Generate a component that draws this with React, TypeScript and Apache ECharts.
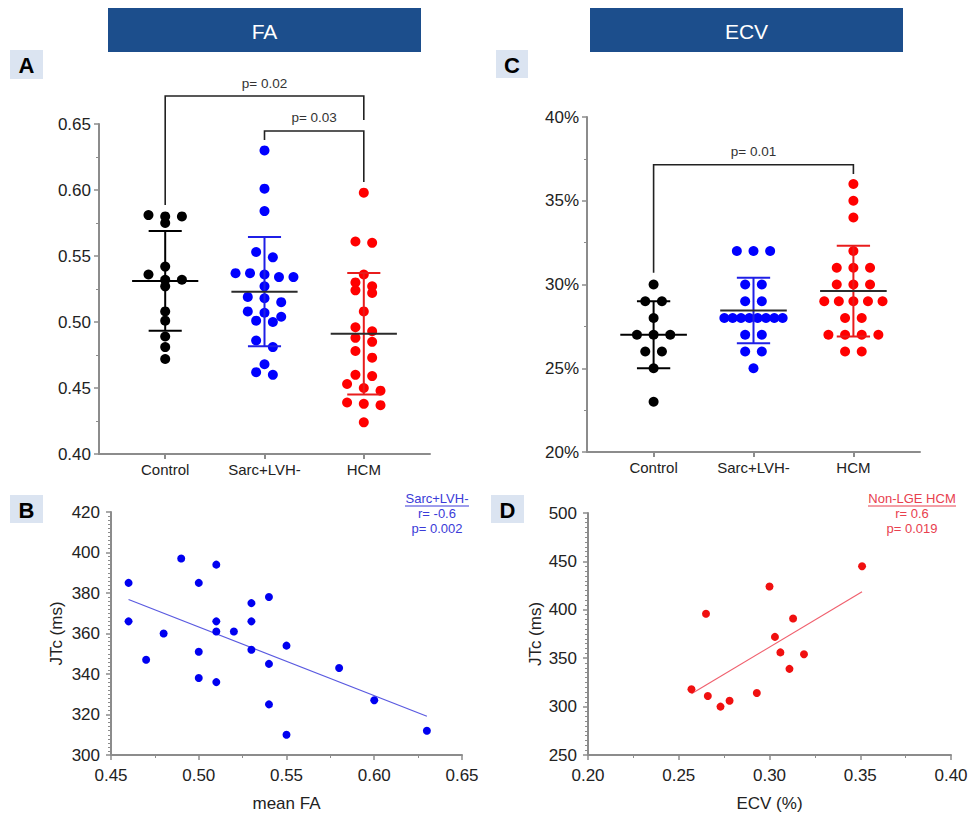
import React, { useEffect, useRef } from "react";
import * as echarts from "echarts";

// ---------- data ----------
const groupNames = ["Control", "Sarc+LVH-", "HCM"];
const groupPositions = [2, 5, 8];
const groupColors = ["#000000", "#0000ff", "#ff0000"];
const barColors = ["#000000", "#1f1fe6", "#e81c1c"];
const meanColors = ["#000000", "#2b2b2b", "#2b2b2b"];

// Panel A: FA per group
const faControl = [0.58, 0.575, 0.58, 0.581, 0.542, 0.532, 0.532, 0.536, 0.527, 0.508, 0.501, 0.489, 0.481, 0.472];
const faSarc = [0.63, 0.601, 0.584, 0.553, 0.549, 0.536, 0.534, 0.534, 0.537, 0.537, 0.527, 0.515, 0.518, 0.519, 0.504, 0.507, 0.508, 0.5, 0.501, 0.486, 0.481, 0.468, 0.46, 0.462];
const faHcm = [0.598, 0.561, 0.56, 0.536, 0.53, 0.527, 0.522, 0.524, 0.508, 0.493, 0.496, 0.488, 0.485, 0.478, 0.473, 0.46, 0.459, 0.453, 0.45, 0.448, 0.439, 0.437, 0.438, 0.424];

// Panel C: ECV (%) per group
const ecvControl = [30, 29, 29, 28, 27, 27, 27, 26, 26, 25, 23];
const ecvSarc = [32, 32, 32, 30, 30, 29, 29, 28, 28, 28, 28, 28, 28, 28, 28, 27, 27, 26, 26, 25];
const ecvHcm = [36, 35, 34, 32, 31, 31, 31, 30, 30, 30, 29, 29, 29, 29, 29, 28, 28, 27, 27, 27, 27, 26, 26];

// Panel B: Sarc+LVH- mean FA vs JTc
const sarcFA = [0.46, 0.46, 0.47, 0.48, 0.49, 0.5, 0.5, 0.5, 0.51, 0.51, 0.51, 0.51, 0.52, 0.53, 0.53, 0.53, 0.54, 0.54, 0.54, 0.55, 0.55, 0.58, 0.6, 0.63];
const sarcJTc = [385, 366, 347, 360, 397, 385, 351, 338, 394, 366, 361, 336, 361, 375, 366, 352, 378, 345, 325, 354, 310, 343, 327, 312];

// Panel D: Non-LGE HCM ECV vs JTc
const hcmECV = [0.257, 0.265, 0.266, 0.273, 0.278, 0.293, 0.3, 0.303, 0.306, 0.311, 0.313, 0.319, 0.351];
const hcmJTc = [318, 396, 311, 300, 306, 314, 424, 372, 356, 339, 391, 354, 445];

// significance brackets: [fromPos, toPos, top, leftEnd, rightEnd, labelIndex]
const faBrackets = [
  [2, 8, 0.6712, 0.5886, 0.653, 0],
  [5, 8, 0.6447, 0.6379, 0.606, 1],
];
const faBracketLabels = ["p= 0.02", "p= 0.03"];
const ecvBrackets = [[2, 8, 37.15, 30.7, 36.6, 0]];
const ecvBracketLabels = ["p= 0.01"];

const faTickLabels = { min: 0.4, max: 0.65, step: 0.05 };
const ecvTickLabels = { min: 20, max: 40, step: 5 };
const jtcBTicks = { min: 300, max: 420, step: 20 };
const faBTicks = { min: 0.45, max: 0.65, step: 0.05 };
const jtcDTicks = { min: 250, max: 500, step: 50 };
const ecvDTicks = { min: 0.2, max: 0.4, step: 0.05 };

// ---------- helpers ----------
const FONT = "Arial, 'Liberation Sans', Helvetica, sans-serif";
const AXIS_GRAY = "#8c8c8c";
const TEXT = "#222222";

function swarm(values: number[], center: number, tol: number, step: number, maxSpan: number) {
  const sorted = [...values].sort((a, b) => b - a);
  const rows: number[][] = [];
  for (const v of sorted) {
    const row = rows[rows.length - 1];
    if (row && row[0] - v <= tol) row.push(v);
    else rows.push([v]);
  }
  const pts: number[][] = [];
  for (const row of rows) {
    const n = row.length;
    const sp = n > 1 ? Math.min(step, maxSpan / (n - 1)) : 0;
    row.forEach((v, i) => pts.push([center + (i - (n - 1) / 2) * sp, v]));
  }
  return pts;
}

function mean(a: number[]) {
  return a.reduce((s, v) => s + v, 0) / a.length;
}
function sd(a: number[]) {
  const m = mean(a);
  return Math.sqrt(a.reduce((s, v) => s + (v - m) * (v - m), 0) / (a.length - 1));
}
function fitLine(xs: number[], ys: number[]) {
  const mx = mean(xs), my = mean(ys);
  let sxy = 0, sxx = 0;
  xs.forEach((x, i) => {
    sxy += (x - mx) * (ys[i] - my);
    sxx += (x - mx) * (x - mx);
  });
  const b = sxy / sxx;
  const a = my - b * mx;
  const x0 = Math.min(...xs), x1 = Math.max(...xs);
  return [[x0, a + b * x0], [x1, a + b * x1]];
}

function errorBarRender(params: any, api: any) {
  const x = api.value(0), m = api.value(1), s = api.value(2), gi = api.value(3);
  const p = (dx: number, v: number) => api.coord([x + dx, v]);
  const bar = barColors[gi], mc = meanColors[gi];
  const seg = (a: number[], b: number[], c: string) => ({
    type: "line",
    shape: { x1: a[0], y1: a[1], x2: b[0], y2: b[1] },
    style: { stroke: c, lineWidth: 2 },
  });
  return {
    type: "group",
    children: [
      seg(p(0, m + s), p(0, m - s), bar),
      seg(p(-0.5, m + s), p(0.5, m + s), bar),
      seg(p(-0.5, m - s), p(0.5, m - s), bar),
      seg(p(-1, m), p(1, m), mc),
    ],
  };
}

function bracketRender(labels: string[]) {
  return (params: any, api: any) => {
    const x1 = api.value(0), x2 = api.value(1), top = api.value(2), yl = api.value(3), yr = api.value(4);
    const li = api.value(5);
    const a = api.coord([x1, yl]), b = api.coord([x1, top]), c = api.coord([x2, top]), d = api.coord([x2, yr]);
    return {
      type: "group",
      children: [
        {
          type: "polyline",
          shape: { points: [a, b, c, d] },
          style: { stroke: "#222", lineWidth: 1.6, fill: "none" },
        },
        {
          type: "text",
          x: (b[0] + c[0]) / 2,
          y: b[1] - 6,
          style: {
            text: labels[li],
            fill: "#333",
            font: `13.5px ${FONT}`,
            textAlign: "center",
            textVerticalAlign: "bottom",
          },
        },
      ],
    };
  };
}

function catXAxis(gridIndex: number) {
  return {
    gridIndex,
    type: "value",
    min: 0,
    max: 10,
    splitLine: { show: false },
    axisLine: { show: true, lineStyle: { color: AXIS_GRAY, width: 2 } },
    axisTick: { show: true, customValues: groupPositions, length: 5, lineStyle: { color: AXIS_GRAY, width: 2 } },
    axisLabel: {
      show: true,
      customValues: groupPositions,
      formatter: (v: number) => groupNames[groupPositions.indexOf(v)] ?? "",
      fontSize: 15,
      fontFamily: FONT,
      color: TEXT,
      margin: 8,
    },
  };
}

function valAxis(gridIndex: number, t: any, fmt: (v: number) => string, minorSplit: number, margin: number, extra: any = {}) {
  return {
    gridIndex,
    type: "value",
    min: t.min,
    max: t.max,
    interval: t.step,
    splitLine: { show: false },
    axisLine: { show: true, onZero: false, lineStyle: { color: AXIS_GRAY, width: 2 } },
    axisTick: { show: true, length: 5, lineStyle: { color: AXIS_GRAY, width: 1.5 } },
    minorTick: { show: true, splitNumber: minorSplit, length: 3, lineStyle: { color: AXIS_GRAY, width: 1 } },
    axisLabel: { formatter: fmt, fontSize: 17, fontFamily: FONT, color: TEXT, margin },
    ...extra,
  };
}

function buildOption() {
  const faGroups = [faControl, faSarc, faHcm];
  const ecvGroups = [ecvControl, ecvSarc, ecvHcm];
  const series: any[] = [];

  faGroups.forEach((g, i) => {
    series.push({
      type: "scatter",
      xAxisIndex: 0,
      yAxisIndex: 0,
      data: swarm(g, groupPositions[i], 0.0055, 0.505, 1.75),
      symbolSize: 10,
      itemStyle: { color: groupColors[i], opacity: 1 },
      z: 2,
    });
  });
  series.push({
    type: "custom",
    xAxisIndex: 0,
    yAxisIndex: 0,
    data: faGroups.map((g, i) => [groupPositions[i], mean(g), sd(g), i]),
    renderItem: errorBarRender,
    clip: false,
    z: 3,
  });
  series.push({
    type: "custom",
    xAxisIndex: 0,
    yAxisIndex: 0,
    data: faBrackets,
    renderItem: bracketRender(faBracketLabels),
    clip: false,
    z: 3,
  });

  ecvGroups.forEach((g, i) => {
    series.push({
      type: "scatter",
      xAxisIndex: 1,
      yAxisIndex: 1,
      data: swarm(g, groupPositions[i], 0.1, 0.5, 1.75),
      symbolSize: 10,
      itemStyle: { color: groupColors[i], opacity: 1 },
      z: 2,
    });
  });
  series.push({
    type: "custom",
    xAxisIndex: 1,
    yAxisIndex: 1,
    data: ecvGroups.map((g, i) => [groupPositions[i], mean(g), sd(g), i]),
    renderItem: errorBarRender,
    clip: false,
    z: 3,
  });
  series.push({
    type: "custom",
    xAxisIndex: 1,
    yAxisIndex: 1,
    data: ecvBrackets,
    renderItem: bracketRender(ecvBracketLabels),
    clip: false,
    z: 3,
  });

  series.push({
    type: "scatter",
    xAxisIndex: 2,
    yAxisIndex: 2,
    data: sarcFA.map((x, i) => [x, sarcJTc[i]]),
    symbolSize: 8,
    itemStyle: { color: "#0000f0", opacity: 1 },
    z: 3,
  });
  series.push({
    type: "line",
    xAxisIndex: 2,
    yAxisIndex: 2,
    data: fitLine(sarcFA, sarcJTc),
    symbol: "none",
    lineStyle: { color: "#5a5ae0", width: 1.2 },
    silent: true,
    z: 2,
  });

  series.push({
    type: "scatter",
    xAxisIndex: 3,
    yAxisIndex: 3,
    data: hcmECV.map((x, i) => [x, hcmJTc[i]]),
    symbolSize: 8,
    itemStyle: { color: "#f01010", opacity: 1 },
    z: 3,
  });
  series.push({
    type: "line",
    xAxisIndex: 3,
    yAxisIndex: 3,
    data: fitLine(hcmECV, hcmJTc),
    symbol: "none",
    lineStyle: { color: "#f0606e", width: 1.2 },
    silent: true,
    z: 2,
  });

  const letterBox = (x: number, y: number, w: number, h: number, t: string) => [
    { type: "rect", shape: { x, y, width: w, height: h }, style: { fill: "#dbe4f1" } },
    {
      type: "text",
      x: x + w / 2,
      y: y + h / 2 + 1,
      style: { text: t, fill: "#000", font: `bold 22px ${FONT}`, textAlign: "center", textVerticalAlign: "middle" },
    },
  ];
  const header = (x: number, w: number, t: string) => [
    { type: "rect", shape: { x, y: 8, width: w, height: 44 }, style: { fill: "#1c4e8c" } },
    {
      type: "text",
      x: x + w / 2,
      y: 31,
      style: { text: t, fill: "#ffffff", font: `21px ${FONT}`, textAlign: "center", textVerticalAlign: "middle" },
    },
  ];
  const annot = (cx: number, lines: string[], color: string, ulHalf: number) => [
    ...lines.map((t, i) => ({
      type: "text",
      x: cx,
      y: 498 + i * 15,
      style: { text: t, fill: color, font: `13px ${FONT}`, textAlign: "center", textVerticalAlign: "middle" },
    })),
    {
      type: "line",
      shape: { x1: cx - ulHalf, y1: 506, x2: cx + ulHalf, y2: 506 },
      style: { stroke: color, lineWidth: 1 },
    },
  ];

  return {
    animation: false,
    backgroundColor: "#ffffff",
    textStyle: { fontFamily: FONT },
    grid: [
      { left: 99, top: 124, width: 331, height: 330 },
      { left: 587, top: 117, width: 333, height: 335 },
      { left: 111, top: 512, width: 351, height: 244 },
      { left: 588, top: 513, width: 363, height: 244 },
    ],
    xAxis: [
      catXAxis(0),
      catXAxis(1),
      valAxis(2, faBTicks, (v: number) => v.toFixed(2), 2, 12, {
        name: "mean FA",
        nameLocation: "middle",
        nameGap: 40,
        nameTextStyle: { fontSize: 17, color: TEXT, fontFamily: FONT },
      }),
      valAxis(3, ecvDTicks, (v: number) => v.toFixed(2), 2, 12, {
        name: "ECV (%)",
        nameLocation: "middle",
        nameGap: 40,
        nameTextStyle: { fontSize: 17, color: TEXT, fontFamily: FONT },
      }),
    ],
    yAxis: [
      valAxis(0, faTickLabels, (v: number) => v.toFixed(2), 2, 8),
      valAxis(1, ecvTickLabels, (v: number) => `${Math.round(v)}%`, 2, 8),
      valAxis(2, jtcBTicks, (v: number) => `${Math.round(v)}`, 10, 11, {
        name: "JTc (ms)",
        nameLocation: "middle",
        nameGap: 46,
        nameRotate: 90,
        nameTextStyle: { fontSize: 17, color: TEXT, fontFamily: FONT },
      }),
      valAxis(3, jtcDTicks, (v: number) => `${Math.round(v)}`, 10, 11, {
        name: "JTc (ms)",
        nameLocation: "middle",
        nameGap: 44,
        nameRotate: 90,
        nameTextStyle: { fontSize: 17, color: TEXT, fontFamily: FONT },
      }),
    ],
    graphic: [
      ...header(108, 313, "FA"),
      ...header(590, 313, "ECV"),
      ...letterBox(10, 50, 33, 29, "A"),
      ...letterBox(496, 50, 32, 28, "C"),
      ...letterBox(10, 495, 33, 28, "B"),
      ...letterBox(491, 495, 33, 28, "D"),
      ...annot(437, ["Sarc+LVH-", "r= -0.6", "p= 0.002"], "#3b3bd8", 32),
      ...annot(912, ["Non-LGE HCM", "r= 0.6", "p= 0.019"], "#e8404e", 44),
    ],
    series,
  };
}

export default function App() {
  const ref = useRef<HTMLDivElement>(null);
  useEffect(() => {
    document.body.style.margin = "0";
    const chart = echarts.init(ref.current as HTMLDivElement, null, { renderer: "svg" });
    chart.setOption(buildOption() as any);
    return () => chart.dispose();
  }, []);
  return <div ref={ref} style={{ width: 973, height: 813, background: "#fff" }} />;
}
